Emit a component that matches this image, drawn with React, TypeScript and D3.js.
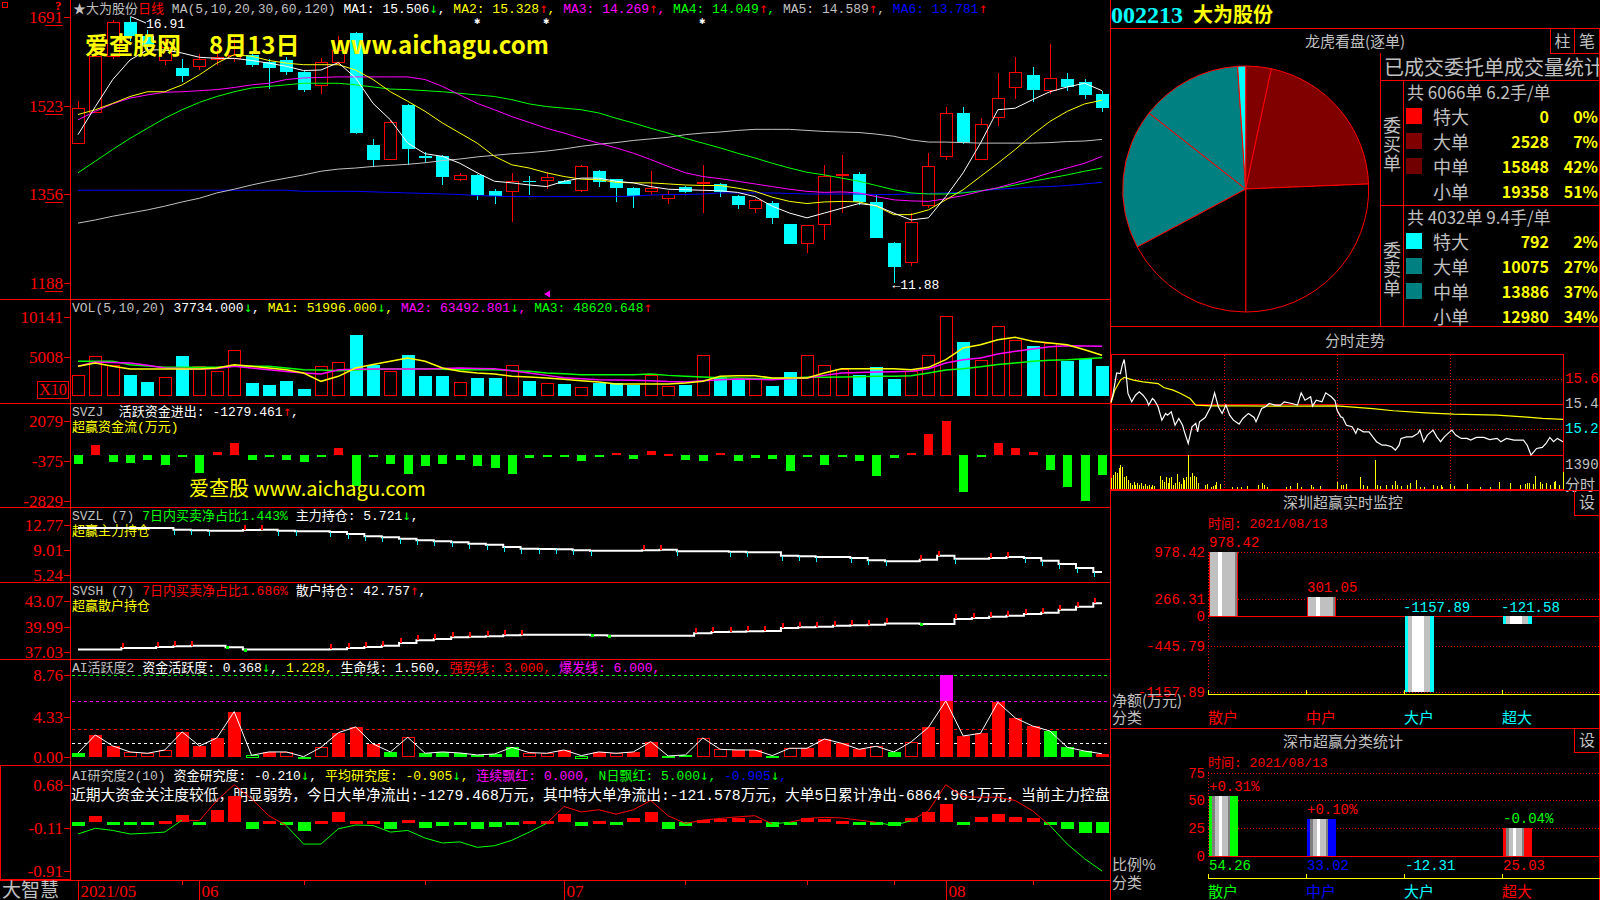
import React from 'react';
import * as d3 from 'd3';

// ---------------- DATA ----------------
const monthLabels = ['2021/05', '06', '07', '08'];
const monthStartIdx = [0, 7, 28, 50];

const openP = [14.53,15.11,16.17,16.80,16.55,16.09,15.94,15.97,16.10,16.12,16.19,16.06,16.09,15.87,15.62,16.06,16.60,14.49,14.22,15.24,14.28,14.28,13.84,13.92,13.62,13.61,13.80,13.82,13.80,13.63,14.00,13.84,13.68,13.61,13.48,13.69,13.76,13.75,13.53,13.29,13.39,12.99,12.63,13.00,13.92,13.94,13.41,12.63,12.28,13.35,14.27,15.09,14.22,15.02,15.58,15.81,15.53,15.73,15.67,15.44];
const highP = [15.31,16.41,16.85,16.91,16.65,16.50,16.10,16.20,16.30,16.50,16.25,16.10,16.15,15.90,16.12,16.55,16.62,14.60,14.96,15.25,14.35,14.30,13.95,13.93,13.65,13.95,13.90,13.98,13.82,14.10,14.01,13.85,13.70,14.00,13.62,13.72,14.10,13.77,13.55,13.47,13.42,13.00,12.98,14.10,14.30,13.97,13.55,12.65,13.20,14.34,15.20,15.20,15.00,15.85,16.15,15.95,16.40,15.85,15.73,15.50];
const lowP = [14.50,15.09,16.10,16.45,16.25,16.00,15.68,15.90,16.00,16.05,15.95,15.55,15.80,15.48,15.45,16.00,14.70,14.06,14.20,14.10,14.15,13.73,13.80,13.45,13.38,13.04,13.55,13.65,13.74,13.60,13.70,13.40,13.30,13.55,13.38,13.57,13.20,13.50,13.27,13.20,13.00,12.62,12.45,12.70,13.20,13.35,12.72,11.88,12.20,13.30,14.20,14.50,14.20,14.85,15.35,15.30,15.45,15.50,15.35,15.10];
const closeP = [15.18,16.17,16.80,16.55,16.35,16.34,15.78,16.11,16.14,16.19,16.00,15.94,15.87,15.53,16.06,16.28,14.72,14.21,14.91,14.41,14.23,13.88,13.92,13.55,13.53,13.80,13.78,13.88,13.75,14.09,13.79,13.67,13.53,13.67,13.56,13.59,13.78,13.59,13.36,13.45,13.10,12.62,12.97,13.90,13.94,13.40,12.72,12.18,13.04,14.09,15.09,14.52,14.88,15.37,15.86,15.53,15.75,15.58,15.42,15.19];

const ma5 = [14.68,15.21,15.72,16.09,16.28,16.28,16.22,16.14,16.12,16.12,16.08,16.03,15.97,15.89,15.90,16.04,15.75,15.27,14.96,14.52,14.32,14.27,14.14,13.96,13.80,13.77,13.73,13.70,13.80,13.86,13.86,13.80,13.77,13.70,13.65,13.64,13.63,13.62,13.59,13.51,13.33,13.20,13.11,13.20,13.29,13.38,13.34,13.20,13.07,13.11,13.51,13.96,14.52,15.15,15.18,15.34,15.49,15.58,15.65,15.51];
const ma10 = [15.06,15.15,15.27,15.40,15.49,15.49,15.62,15.81,16.03,16.19,16.16,16.08,16.03,16.00,16.00,16.00,15.90,15.72,15.49,15.31,15.12,14.90,14.71,14.52,14.27,14.11,14.05,13.96,13.89,13.84,13.83,13.78,13.77,13.77,13.75,13.73,13.72,13.72,13.67,13.61,13.50,13.42,13.38,13.41,13.42,13.41,13.33,13.17,13.17,13.26,13.45,13.64,13.89,14.14,14.40,14.68,14.93,15.12,15.26,15.33];
const ma20 = [14.96,15.12,15.26,15.37,15.43,15.48,15.49,15.51,15.53,15.57,15.62,15.65,15.72,15.75,15.76,15.77,15.77,15.77,15.77,15.77,15.72,15.59,15.43,15.27,15.15,15.02,14.91,14.80,14.71,14.61,14.52,14.43,14.33,14.21,14.08,13.96,13.89,13.85,13.80,13.75,13.70,13.65,13.61,13.59,13.60,13.58,13.51,13.45,13.43,13.42,13.47,13.53,13.61,13.68,13.77,13.86,13.96,14.05,14.14,14.27];
const ma30 = [13.96,14.18,14.40,14.61,14.80,14.99,15.15,15.29,15.40,15.49,15.56,15.59,15.62,15.65,15.65,15.65,15.62,15.58,15.54,15.53,15.51,15.49,15.46,15.43,15.40,15.34,15.26,15.21,15.18,15.15,15.09,14.99,14.90,14.80,14.71,14.61,14.52,14.43,14.33,14.24,14.14,14.05,13.97,13.92,13.86,13.80,13.72,13.64,13.58,13.56,13.56,13.58,13.62,13.67,13.73,13.80,13.86,13.92,13.99,14.05];
const ma60 = [13.01,13.07,13.14,13.20,13.26,13.33,13.41,13.48,13.58,13.65,13.73,13.80,13.86,13.92,13.99,14.03,14.05,14.08,14.10,14.12,14.15,14.19,14.22,14.26,14.29,14.32,14.34,14.37,14.41,14.46,14.50,14.53,14.57,14.60,14.63,14.68,14.71,14.73,14.76,14.78,14.78,14.78,14.76,14.74,14.73,14.72,14.69,14.65,14.58,14.54,14.54,14.53,14.52,14.52,14.52,14.52,14.53,14.55,14.56,14.59];
const ma120 = [13.63,13.63,13.63,13.63,13.63,13.63,13.63,13.63,13.63,13.63,13.63,13.63,13.63,13.61,13.61,13.61,13.61,13.60,13.59,13.58,13.57,13.56,13.55,13.53,13.52,13.51,13.51,13.51,13.51,13.51,13.51,13.51,13.52,13.54,13.55,13.55,13.56,13.58,13.58,13.58,13.58,13.57,13.56,13.56,13.56,13.56,13.55,13.55,13.56,13.57,13.58,13.59,13.62,13.65,13.67,13.69,13.70,13.72,13.75,13.78];

const volume = [2609,5060,3980,2609,1744,2350,5060,3767,3208,5920,1615,1314,1830,880,3767,4290,7775,3980,3208,5190,2520,2520,1744,2260,2260,3980,1830,1572,1486,1055,1615,1615,1400,2690,1228,1400,5190,2350,2090,2090,1228,3036,5275,3900,3466,2690,3640,2175,3208,5190,10300,6910,4625,8940,7170,6395,6745,4500,4755,3773];
const volMA5 = [3768,4198,3768,3423,3423,3423,3423,3423,3552,3983,3768,3552,3337,2907,1830,2476,3552,4000,4414,4844,4414,3552,3122,2907,2777,2476,2400,2261,2100,1900,1744,1486,1486,1486,1486,1600,1830,2476,2562,2562,2261,2261,2261,2907,3466,3466,3466,3466,3337,3638,4629,6136,6566,7212,7514,6997,6782,6566,5921,5200];
const volMA10 = [3768,4327,4250,4198,3900,3552,3480,3423,3500,3768,3550,3337,3100,2907,2777,3337,3380,3423,3423,3423,3423,3500,3552,3500,3466,3200,2907,2600,2300,2150,2045,2000,1960,1916,1800,1744,1916,2050,2131,2100,2045,2150,2261,2600,2907,2970,3036,3080,3122,3466,4198,4629,4844,5361,5705,6000,6300,6437,6400,6349];
const volMA20 = [4414,4414,4414,3983,3800,3638,3638,3638,3638,3768,3768,3768,3552,3337,3300,3208,3300,3400,3423,3466,3466,3400,3337,3337,3337,3200,3122,2900,2800,2691,2691,2691,2691,2777,2600,2476,2400,2300,2261,2200,2175,2250,2347,2370,2390,2430,2476,2500,2562,2907,3300,3466,3700,4000,4198,4414,4550,4629,4758,4862];

const svzj = [-579,587,-436,-497,-313,-640,-67,-1110,157,710,-313,-67,-313,-436,-67,403,-1908,-67,-579,-1172,-701,-579,-313,-701,-824,-1172,-190,-108,-170,-374,-67,76,-251,198,35,-313,-374,96,-374,-190,-251,-988,-67,-640,-129,-374,-1295,-190,96,1262,2079,-2277,-129,710,403,157,-926,-2011,-2829,-1279];

const svzl = [12.27,12.27,12.27,12.27,12.27,12.27,12.03,11.93,11.88,11.88,11.98,12.03,11.88,11.78,11.78,11.68,11.38,11.04,10.89,10.69,10.44,10.29,10.14,9.95,9.80,9.45,9.20,9.15,9.10,8.96,8.91,8.91,8.91,8.96,9.05,8.81,8.81,8.81,8.76,8.66,8.66,8.16,8.06,7.96,7.96,7.82,7.47,7.32,7.32,7.57,8.16,7.72,7.72,7.82,7.96,7.82,7.42,6.93,6.33,5.72];
const svsh = [37.31,37.31,37.31,37.50,37.50,37.62,37.70,37.78,37.78,37.58,37.31,37.31,37.31,37.31,37.31,37.34,37.50,37.62,37.78,38.09,38.40,38.56,38.76,38.83,38.87,38.99,39.07,39.07,39.07,39.07,38.99,38.95,38.95,38.95,38.95,38.95,39.23,39.38,39.42,39.46,39.50,39.85,39.93,40.01,40.13,40.17,40.25,40.40,40.40,40.33,40.33,40.91,41.03,41.19,41.31,41.50,41.66,42.01,42.36,42.76];

const aiAct = [0.46,2.38,1.21,0.57,0.43,0.78,2.70,1.21,2.06,4.86,0.21,0.57,0.57,0.07,1.06,2.62,3.23,1.42,0.57,2.13,0.43,0.57,0.46,0.25,0.35,1.06,0.50,0.43,0.78,0.18,0.57,0.43,0.57,1.67,0.14,0.25,2.06,0.85,0.78,0.78,0.18,0.96,0.96,1.95,1.49,0.85,1.17,0.57,1.63,3.19,8.76,2.27,2.55,5.85,4.19,3.33,2.80,1.06,0.67,0.37];
const aiActType = 'GRRrrrRRRRgRrGrRRRGrGGGGGGrrRgRrRRGGrrRRGrRRRRrGrRRRRRRRGGG';
const aiLevels = [8.76, 6.0, 3.0, 1.56];

const aiRes = [-0.08,0.10,-0.02,-0.06,-0.02,0.02,0.13,-0.03,0.21,0.47,-0.14,0.02,-0.05,-0.17,0.01,0.17,0.02,0.02,-0.14,0.04,-0.11,-0.08,-0.06,-0.13,-0.10,-0.04,0.02,0.02,0.15,-0.08,0.02,-0.02,0.06,0.18,-0.14,-0.08,0.04,0.05,0.06,0.04,-0.10,-0.02,0.07,0.05,0.02,-0.02,-0.02,-0.08,0.06,0.18,0.32,-0.06,0.09,0.15,0.09,0.06,-0.04,-0.14,-0.20,-0.21];
const aiResLine = [-0.225,-0.12,-0.16,-0.225,-0.21,-0.19,0.03,0.02,0.39,0.68,0.42,0.11,-0.07,-0.41,-0.41,-0.13,-0.06,-0.07,-0.19,-0.16,-0.30,-0.39,-0.37,-0.47,-0.44,-0.34,-0.19,-0.03,0.28,0.18,0.22,0.14,0.22,0.39,0.11,-0.03,0.03,0.06,0.09,0.11,-0.04,-0.01,0.06,0.08,0.07,0.03,-0.01,-0.07,0.02,0.20,0.68,0.46,0.45,0.45,0.39,0.20,-0.07,-0.41,-0.68,-0.905];

// axis tick labels
const priceTicks = [16.91, 15.23, 13.56, 11.88];
const priceTickLabels = ['1691', '1523', '1356', '1188'];
const volTicks = [10141, 5008];
const svzjTicks = [2079, -375, -2829];
const svzlTicks = [12.77, 9.01, 5.24];
const svshTicks = [43.07, 39.99, 37.03];
const aiTicks = [8.76, 4.33, 0];
const resTicks = [0.68, -0.11, -0.91];

// right panel
const pieValues = [0, 2528, 15848, 19358, 12980, 13886, 10075, 792];
const pieColors = ['#ff0000', '#800000', '#800000', '#000000', '#000000', '#008080', '#008080', '#00ffff'];
const orderLabels = ['特大', '大单', '中单', '小单'];
const buyVals = [0, 2528, 15848, 19358];
const buyPct = ['0%', '7%', '42%', '51%'];
const buyColors = ['#ff0000', '#800000', '#700000', ''];
const sellVals = [792, 10075, 13886, 12980];
const sellPct = ['2%', '27%', '37%', '34%'];
const sellColors = ['#00ffff', '#008080', '#008080', ''];

const fsPrice: [number, number][] = [[0,15.455],[1,15.497],[3,15.639],[5,15.635],[6,15.688],[7,15.724],[8,15.635],[9,15.508],[11,15.455],[13,15.497],[15,15.518],[17,15.497],[19,15.465],[20,15.434],[22,15.476],[23,15.465],[25,15.423],[27,15.338],[29,15.381],[30,15.370],[32,15.391],[34,15.306],[36,15.349],[38,15.306],[39,15.264],[41,15.190],[43,15.296],[45,15.317],[46,15.264],[47,15.328],[50,15.355],[53,15.423],[55,15.512],[57,15.423],[59,15.381],[61,15.434],[63,15.370],[65,15.338],[68,15.313],[70,15.349],[73,15.381],[76,15.355],[77,15.328],[80,15.412],[82,15.423],[84,15.444],[87,15.434],[90,15.434],[92,15.455],[96,15.444],[99,15.434],[101,15.512],[103,15.465],[106,15.487],[107,15.427],[109,15.465],[112,15.455],[114,15.512],[117,15.487],[119,15.461],[120,15.402],[122,15.359],[123,15.355],[125,15.306],[128,15.296],[130,15.254],[131,15.285],[134,15.264],[137,15.264],[139,15.232],[141,15.201],[144,15.179],[146,15.179],[149,15.169],[151,15.148],[153,15.179],[154,15.222],[157,15.232],[160,15.232],[163,15.254],[164,15.275],[166,15.201],[168,15.243],[171,15.275],[173,15.232],[175,15.201],[177,15.232],[179,15.254],[181,15.275],[183,15.243],[186,15.222],[189,15.222],[191,15.211],[194,15.228],[198,15.228],[201,15.215],[205,15.222],[207,15.201],[210,15.222],[214,15.211],[219,15.211],[221,15.179],[223,15.116],[226,15.158],[229,15.165],[231,15.190],[233,15.228],[235,15.201],[237,15.222],[240,15.201]];
const fsAvg: [number, number][] = [[0,15.448],[2,15.529],[5,15.593],[7,15.610],[12,15.593],[17,15.582],[25,15.571],[28,15.546],[33,15.529],[37,15.508],[42,15.476],[45,15.434],[53,15.429],[70,15.429],[88,15.427],[99,15.427],[120,15.429],[139,15.412],[150,15.398],[167,15.385],[182,15.376],[205,15.370],[219,15.359],[229,15.349],[240,15.343]];
const fsVol: [number, number][] = [[0,436],[1,572],[2,709],[3,641],[4,845],[5,981],[6,913],[7,504],[8,532],[9,368],[10,232],[11,164],[12,300],[13,164],[14,232],[15,164],[16,259],[17,123],[18,204],[19,123],[20,164],[21,95],[22,164],[23,123],[26,532],[27,368],[28,300],[29,504],[30,232],[31,436],[32,504],[33,164],[34,232],[35,613],[36,300],[37,204],[38,436],[39,368],[40,504],[41,1390],[42,504],[43,641],[44,532],[45,504],[46,232],[50,164],[51,204],[53,95],[54,123],[55,164],[56,300],[58,204],[64,95],[67,95],[69,95],[72,123],[78,164],[80,232],[81,164],[83,95],[93,95],[95,123],[99,232],[101,95],[106,164],[107,95],[111,123],[120,300],[122,164],[123,164],[125,204],[132,504],[134,164],[136,123],[140,1186],[141,164],[143,123],[146,164],[149,164],[151,341],[152,164],[154,123],[157,164],[159,232],[162,368],[164,95],[166,95],[171,164],[173,123],[175,164],[176,95],[180,204],[182,123],[189,204],[196,95],[201,95],[206,300],[212,259],[217,164],[220,204],[221,232],[222,259],[224,204],[225,532],[228,300],[229,204],[231,259],[233,164],[235,300],[236,341],[238,164],[240,709]];
const fsPriceTicks = [15.60, 15.44, 15.28];

const szCats = ['散户', '中户', '大户', '超大'];
const szNet = [978.42, 301.05, -1157.89, -121.58];
const szNetTicks = [978.42, 266.31, 0, -445.79, -1157.89];
const szRatio = [54.26, 33.02, -12.31, 25.03];
const szRatioChange = ['+0.31%', '+0.10%', '', '-0.04%'];
const szRatioTicks = [75, 50, 25, 0];

// ---------------- STYLE ----------------
const RED = '#ff0000', CYAN = '#00ffff', GREEN = '#00ff00', YELLOW = '#ffff00';
const MAGENTA = '#ff00ff', BLUE = '#0000ff', WHITE = '#ffffff', GRAY = '#c0c0c0';
const MONO = "'Liberation Mono','Noto Sans CJK SC',monospace";
const ARROWF = "'DejaVu Sans Mono','DejaVu Sans',monospace";
const CJK = "'Noto Sans CJK SC','Noto Sans',sans-serif";
const NUMF = "'Liberation Serif','DejaVu Serif',serif";

type Seg = [string, string];
function Rich({ x, y, segs, size = 13, family = MONO }: { x: number; y: number; segs: Seg[]; size?: number; family?: string }) {
  return (
    <text x={x} y={y} fontSize={size} fontFamily={family} style={{ whiteSpace: 'pre' }}>
      {segs.map(([t, c], i) => (
        t === '↑' || t === '↓'
          ? <tspan key={i} fill={c} fontFamily={ARROWF} fontSize={size + 1}>{t}</tspan>
          : <tspan key={i} fill={c}>{t}</tspan>
      ))}
    </text>
  );
}

function AxisLabels({ ticks, scale, labels, underline = false }: { ticks: number[]; scale: (v: number) => number; labels: string[]; underline?: boolean }) {
  return (
    <g>
      {ticks.map((t, i) => {
        const y = Math.round(scale(t)) + 0.5;
        return (
          <g key={i}>
            <text x={63} y={y} fill={RED} fontSize={17} fontFamily={NUMF} textAnchor="end" dominantBaseline="central">{labels[i]}</text>
            <line x1={64} x2={70} y1={y} y2={y} stroke={RED} />
            {underline && <line x1={45} x2={63} y1={y + 8} y2={y + 8} stroke={RED} />}
          </g>
        );
      })}
    </g>
  );
}

export default function App() {
  const N = closeP.length;
  const x = d3.scaleLinear().domain([0, N - 1]).range([78, 1102]);
  const cxOf = (i: number) => Math.round(x(i)) + 0.5;

  const yP = d3.scaleLinear().domain([11.88, 16.91]).range([283, 16.5]);
  const yV = d3.scaleLinear().domain([0, 10141]).range([395.5, 317]);
  const yZJ = d3.scaleLinear().domain([-2829, 2079]).range([500.7, 420.7]);
  const yZL = d3.scaleLinear().domain([5.24, 12.77]).range([575.3, 524.7]);
  const ySH = d3.scaleLinear().domain([37.03, 43.07]).range([652, 600.7]);
  const yAI = d3.scaleLinear().domain([0, 8.76]).range([757.3, 675]);
  const yRS = d3.scaleLinear().domain([-0.91, 0.68]).range([871.3, 784.7]);

  const lineOf = (ys: (v: number) => number, curve: d3.CurveFactory = d3.curveLinear) =>
    d3.line<number>().x((_, i) => x(i)).y(d => ys(d)).curve(curve);

  const maLines: [number[], string][] = [
    [ma120, BLUE], [ma60, GRAY], [ma30, GREEN], [ma20, MAGENTA], [ma10, YELLOW], [ma5, WHITE],
  ];

  const pieGen = d3.pie<number>().sort(null).startAngle(0).endAngle(Math.PI * 2);
  const arcs = pieGen(pieValues);
  const arcGen = d3.arc<d3.PieArcDatum<number>>().innerRadius(0).outerRadius(123);

  const fx = d3.scaleLinear().domain([0, 240]).range([1111, 1563]);
  const fy = d3.scaleLinear().domain([15.28, 15.60]).range([429.3, 379]);
  const fv = d3.scaleLinear().domain([0, 1390]).range([489, 455]);
  const fsLine = d3.line<[number, number]>().x(d => fx(d[0])).y(d => fy(d[1]));

  const cx4 = d3.scaleLinear().domain([0, 3]).range([1208, 1502]);
  const yNet = d3.scaleLinear().domain([-1157.89, 978.42]).range([692.3, 552.3]);
  const yRat = d3.scaleLinear().domain([0, 75]).range([855.7, 772.7]);
  const ratEdge = [GREEN, BLUE, CYAN, RED];
  const netColor = (v: number) => (v >= 0 ? RED : CYAN);

  const resSegs = aiResLine.slice(1).map((v, k) => ({ i: k, c: (v + aiResLine[k]) / 2 >= 0 ? RED : GREEN }));

  const stops = (arr: [number, string][]) => arr.map(([o, c], k) => <stop key={k} offset={o} stopColor={c} />);

  return (
    <div style={{ position: 'absolute', left: 0, top: 0, width: 1600, height: 900, background: '#000' }}>
      <svg width={1600} height={900} style={{ display: 'block', background: '#000' }}>
        <defs>
          <clipPath id="leftClip"><rect x={71} y={0} width={1039} height={900} /></clipPath>
          <clipPath id="mainClip"><rect x={71} y={0} width={1039} height={298} /></clipPath>
          <clipPath id="rightClip"><rect x={1111} y={0} width={488} height={900} /></clipPath>
          <linearGradient id="gPos" x1="0" x2="1" y1="0" y2="0">
            {stops([[0, RED], [0.04, RED], [0.04, GRAY], [0.3, GRAY], [0.3, WHITE], [0.45, WHITE], [0.45, GRAY], [0.88, GRAY], [0.88, '#808080'], [0.95, '#808080'], [0.95, RED], [1, RED]])}
          </linearGradient>
          <linearGradient id="gNeg" x1="0" x2="1" y1="0" y2="0">
            {stops([[0, CYAN], [0.09, CYAN], [0.09, GRAY], [0.25, GRAY], [0.25, WHITE], [0.65, WHITE], [0.65, GRAY], [0.85, GRAY], [0.85, CYAN], [1, CYAN]])}
          </linearGradient>
          {ratEdge.map((e, j) => (
            <linearGradient key={j} id={`gR${j}`} x1="0" x2="1" y1="0" y2="0">
              {stops([[0, e], [0.12, e], [0.12, '#808080'], [0.2, '#808080'], [0.2, GRAY], [0.34, GRAY], [0.34, WHITE], [0.44, WHITE], [0.44, GRAY], [0.66, GRAY], [0.66, '#808080'], [0.74, '#808080'], [0.74, e], [1, e]])}
            </linearGradient>
          ))}
        </defs>
        <rect x={0} y={0} width={1600} height={900} fill="#000" />

        {/* ---------- frame lines left ---------- */}
        <g shapeRendering="crispEdges">
          {[299, 403, 507, 582, 659, 765, 880].map(y => <line key={y} x1={0} x2={1110} y1={y + 0.5} y2={y + 0.5} stroke={RED} />)}
          <line x1={70.5} x2={70.5} y1={0} y2={880} stroke={RED} />
          <line x1={1110.5} x2={1110.5} y1={0} y2={900} stroke={RED} />
          <rect x={0.5} y={765.5} width={70} height={114} fill="none" stroke={RED} />
          <rect x={2.5} y={2.5} width={5} height={5} fill="none" stroke={RED} />
        </g>
        <text x={55} y={10} fill={RED} fontSize={13} fontWeight="bold" fontFamily={NUMF}>?</text>

        {/* ---------- axis labels ---------- */}
        <AxisLabels ticks={priceTicks} scale={yP} labels={priceTickLabels} underline />
        <AxisLabels ticks={volTicks} scale={yV} labels={volTicks.map(String)} />
        <g shapeRendering="crispEdges">
          <rect x={37.5} y={381.5} width={31} height={17} fill="none" stroke={RED} />
        </g>
        <text x={53} y={395} fill={RED} fontSize={16} fontFamily={NUMF} textAnchor="middle">X10</text>
        <AxisLabels ticks={svzjTicks} scale={yZJ} labels={svzjTicks.map(String)} />
        <AxisLabels ticks={svzlTicks} scale={yZL} labels={svzlTicks.map(v => v.toFixed(2))} />
        <AxisLabels ticks={svshTicks} scale={ySH} labels={svshTicks.map(v => v.toFixed(2))} />
        <AxisLabels ticks={aiTicks} scale={yAI} labels={aiTicks.map(v => v.toFixed(2))} />
        <AxisLabels ticks={resTicks} scale={yRS} labels={resTicks.map(v => v.toFixed(2))} />

        {/* ---------- main price panel ---------- */}
        <g clipPath="url(#mainClip)">
          <g shapeRendering="crispEdges">
            {closeP.map((c, i) => {
              const o = openP[i], h = highP[i], l = lowP[i];
              const up = c >= o;
              const cx = cxOf(i);
              const top = Math.round(yP(Math.max(o, c)));
              const bot = Math.round(yP(Math.min(o, c)));
              if (up) {
                return (
                  <g key={i}>
                    <line x1={cx} x2={cx} y1={yP(h)} y2={top} stroke={RED} />
                    <line x1={cx} x2={cx} y1={bot} y2={yP(l)} stroke={RED} />
                    <rect x={cx - 6} y={top + 0.5} width={12} height={Math.max(1, bot - top)} fill="#000" stroke={RED} />
                  </g>
                );
              }
              return (
                <g key={i}>
                  <line x1={cx} x2={cx} y1={yP(h)} y2={yP(l)} stroke={CYAN} />
                  <rect x={cx - 6.5} y={top} width={13} height={Math.max(1, bot - top)} fill={CYAN} />
                </g>
              );
            })}
          </g>
          {maLines.map(([d, c], k) => <path key={k} d={lineOf(yP)(d) || ''} fill="none" stroke={c} strokeWidth={1} />)}
          <line x1={cxOf(3)} y1={yP(16.91)} x2={146} y2={23} stroke={WHITE} />
          <text x={146} y={28} fill={WHITE} fontSize={13} fontFamily={MONO}>16.91</text>
          <text x={cxOf(47) - 2} y={289} fill={WHITE} fontSize={13} fontFamily={MONO}>←11.88</text>
          <path d="M544,294 l6,-3.5 v7 z" fill={MAGENTA} />
          <g fill={YELLOW} fontFamily={CJK} fontWeight="bold" fontSize={24}>
            <text x={85} y={54}>爱查股网</text>
            <text x={209} y={54}>8月13日</text>
            <text x={330} y={54}>www.aichagu.com</text>
          </g>
          {[477, 546, 702].map(sx => <text key={sx} x={sx} y={24} fill={WHITE} fontSize={10} textAnchor="middle" fontFamily={MONO}>✱</text>)}
        </g>

        {/* ---------- headers ---------- */}
        <g clipPath="url(#leftClip)">
          <Rich x={73} y={13} segs={[['★大为股份', GRAY], ['日线', RED], [' MA(5,10,20,30,60,120) ', GRAY], ['MA1: 15.506', WHITE], ['↓', GREEN], [', ', WHITE], ['MA2: 15.328', YELLOW], ['↑', RED], [', ', YELLOW], ['MA3: 14.269', MAGENTA], ['↑', RED], [', ', MAGENTA], ['MA4: 14.049', GREEN], ['↑', RED], [', ', GREEN], ['MA5: 14.589', GRAY], ['↑', RED], [', ', GRAY], ['MA6: 13.781', BLUE], ['↑', RED]]} />
          <Rich x={72} y={312} segs={[['VOL(5,10,20) ', GRAY], ['37734.000', WHITE], ['↓', GREEN], [', ', WHITE], ['MA1: 51996.000', YELLOW], ['↓', GREEN], [', ', YELLOW], ['MA2: 63492.801', MAGENTA], ['↓', GREEN], [', ', MAGENTA], ['MA3: 48620.648', GREEN], ['↑', RED]]} />
          <Rich x={72} y={416} segs={[['SVZJ  ', GRAY], ['活跃资金进出: -1279.461', WHITE], ['↑', RED], [',', WHITE]]} />
          <Rich x={72} y={431} segs={[['超赢资金流(万元)', YELLOW]]} />
          <Rich x={72} y={520} segs={[['SVZL (7) ', GRAY], ['7日内买卖净占比1.443%', GREEN], [' 主力持仓: 5.721', WHITE], ['↓', GREEN], [',', WHITE]]} />
          <Rich x={72} y={535} segs={[['超赢主力持仓', YELLOW]]} />
          <Rich x={72} y={595} segs={[['SVSH (7) ', GRAY], ['7日内买卖净占比1.686%', RED], [' 散户持仓: 42.757', WHITE], ['↑', RED], [',', WHITE]]} />
          <Rich x={72} y={610} segs={[['超赢散户持仓', YELLOW]]} />
          <Rich x={72} y={672} segs={[['AI活跃度2 ', GRAY], ['资金活跃度: 0.368', WHITE], ['↓', GREEN], [', ', WHITE], ['1.228, ', YELLOW], ['生命线: 1.560, ', WHITE], ['强势线: 3.000, ', RED], ['爆发线: 6.000,', MAGENTA]]} />
          <Rich x={72} y={780} segs={[['AI研究度2(10) ', GRAY], ['资金研究度: -0.210', WHITE], ['↓', GREEN], [', ', WHITE], ['平均研究度: -0.905', YELLOW], ['↓', GREEN], [', ', YELLOW], ['连续飘红: 0.000, ', MAGENTA], ['N日飘红: 5.000', GREEN], ['↓', GREEN], [', ', GREEN], ['-0.905', BLUE], ['↓', GREEN], [',', BLUE]]} />
        </g>
        <svg x={0} y={0} width={1110} height={900} overflow="hidden">
          <Rich x={71} y={800} size={14.75} segs={[['近期大资金关注度较低，明显弱势，今日大单净流出:-1279.468万元，其中特大单净流出:-121.578万元，大单5日累计净出-6864.961万元，当前主力控盘', WHITE]]} />
        </svg>

        {/* ---------- volume panel ---------- */}
        <g shapeRendering="crispEdges">
          {volume.map((v, i) => {
            const up = closeP[i] >= openP[i];
            const cx = cxOf(i);
            const top = Math.round(yV(v));
            const base = Math.round(yV(0));
            return up
              ? <rect key={i} x={cx - 6} y={top + 0.5} width={12} height={base - top - 1} fill="#000" stroke={RED} />
              : <rect key={i} x={cx - 6.5} y={top} width={13} height={base - top} fill={CYAN} />;
          })}
        </g>
        <path d={lineOf(yV)(volMA20) || ''} fill="none" stroke={GREEN} strokeWidth={1.5} />
        <path d={lineOf(yV)(volMA10) || ''} fill="none" stroke={MAGENTA} strokeWidth={1.5} />
        <path d={lineOf(yV)(volMA5) || ''} fill="none" stroke={YELLOW} strokeWidth={1.5} />

        {/* ---------- SVZJ ---------- */}
        <g shapeRendering="crispEdges">
          {svzj.map((v, i) => {
            const y0 = yZJ(0), y1 = yZJ(v);
            return <rect key={i} x={Math.round(x(i)) - 4} y={Math.min(y0, y1)} width={9} height={Math.max(2, Math.abs(y1 - y0))} fill={v >= 0 ? RED : GREEN} />;
          })}
        </g>
        <text x={189} y={496} fill={YELLOW} fontFamily={CJK} fontSize={20}>爱查股 www.aichagu.com</text>

        {/* ---------- SVZL ---------- */}
        <path d={lineOf(yZL, d3.curveStep)(svzl) || ''} fill="none" stroke={WHITE} strokeWidth={2} />
        <g shapeRendering="crispEdges">
          {svzl.map((v, i) => {
            if (i === 0 || v === svzl[i - 1]) return null;
            const cx = cxOf(i) - 8;
            const y = yZL(v);
            return v < svzl[i - 1]
              ? <line key={i} x1={cx} x2={cx} y1={y} y2={y + 5} stroke={CYAN} />
              : <line key={i} x1={cx} x2={cx} y1={y - 5} y2={y} stroke={RED} strokeWidth={2} />;
          })}
        </g>

        {/* ---------- SVSH ---------- */}
        <path d={lineOf(ySH, d3.curveStep)(svsh) || ''} fill="none" stroke={WHITE} strokeWidth={2} />
        <g shapeRendering="crispEdges">
          {svsh.map((v, i) => {
            if (i === 0 || v === svsh[i - 1]) return null;
            const cx = cxOf(i) - 8;
            const y = ySH(v);
            return v > svsh[i - 1]
              ? <line key={i} x1={cx} x2={cx} y1={y - 5} y2={y} stroke={RED} strokeWidth={2} />
              : <rect key={i} x={cx - 1} y={y - 1} width={3} height={3} fill={GREEN} />;
          })}
        </g>

        {/* ---------- AI activity ---------- */}
        <g shapeRendering="crispEdges">
          {aiLevels.map((lv, k) => (
            <line key={k} x1={72} x2={1110} y1={Math.round(yAI(lv)) + 0.5} y2={Math.round(yAI(lv)) + 0.5}
              stroke={[GREEN, MAGENTA, RED, WHITE][k]} strokeDasharray="3,3" strokeWidth={1.5} />
          ))}
          {aiAct.map((v, i) => {
            const t = aiActType[i];
            const cx = cxOf(i);
            const base = Math.round(yAI(0));
            const top = Math.round(yAI(Math.min(v, 6)));
            const col = t === 'G' || t === 'g' ? GREEN : RED;
            const hollow = t === 'g' || t === 'r';
            return (
              <g key={i}>
                {hollow
                  ? <rect x={cx - 6} y={top + 0.5} width={12} height={Math.max(2, base - top - 1)} fill="#000" stroke={col} />
                  : <rect x={cx - 6.5} y={top} width={13} height={Math.max(2, base - top)} fill={col} />}
                {v > 6 && <rect x={cx - 6.5} y={yAI(v)} width={13} height={yAI(6) - yAI(v)} fill={MAGENTA} />}
              </g>
            );
          })}
        </g>
        <path d={lineOf(yAI)(aiAct.map(v => Math.min(v, 6))) || ''} fill="none" stroke={WHITE} strokeWidth={1} />

        {/* ---------- AI research ---------- */}
        <g shapeRendering="crispEdges">
          {aiRes.map((v, i) => {
            const y0 = yRS(0), y1 = yRS(v);
            return <rect key={i} x={cxOf(i) - 6.5} y={Math.min(y0, y1)} width={13} height={Math.max(3, Math.abs(y1 - y0))} fill={v >= 0 ? RED : GREEN} />;
          })}
        </g>
        {resSegs.map(({ i, c }) => (
          <line key={i} x1={x(i)} y1={yRS(aiResLine[i])} x2={x(i + 1)} y2={yRS(aiResLine[i + 1])} stroke={c} strokeWidth={1} />
        ))}

        {/* ---------- date axis ---------- */}
        <text x={2} y={897} fill={GRAY} fontSize={19} fontFamily={CJK}>大智慧</text>
        <g shapeRendering="crispEdges">
          {monthStartIdx.map((idx, k) => (
            <g key={k}>
              <line x1={cxOf(idx)} x2={cxOf(idx)} y1={880} y2={900} stroke={RED} />
              <text x={cxOf(idx) + 2} y={897} fill={RED} fontSize={17} fontFamily={NUMF}>{monthLabels[k]}</text>
            </g>
          ))}
          {[6, 13, 20, 35, 42, 47, 55].map(idx => <line key={idx} x1={cxOf(idx)} x2={cxOf(idx)} y1={880} y2={885} stroke={RED} />)}
        </g>

        {/* ================= RIGHT PANEL ================= */}
        <text x={1111} y={23} fill={CYAN} fontSize={24} fontWeight="bold" fontFamily={NUMF}>002213</text>
        <text x={1193} y={22} fill={YELLOW} fontSize={20} fontWeight="bold" fontFamily={CJK}>大为股份</text>
        <g shapeRendering="crispEdges" stroke={RED} fill="none">
          <line x1={1110} x2={1600} y1={28.5} y2={28.5} />
          <line x1={1599.5} x2={1599.5} y1={28} y2={900} />
          <line x1={1110} x2={1600} y1={326.5} y2={326.5} />
          <rect x={1550.5} y={28.5} width={24} height={25} />
          <rect x={1574.5} y={28.5} width={25} height={25} />
          <line x1={1380.5} x2={1380.5} y1={53} y2={327} />
          <line x1={1380} x2={1600} y1={80.5} y2={80.5} />
          <line x1={1403.5} x2={1403.5} y1={80} y2={327} />
          <line x1={1380} x2={1600} y1={205.5} y2={205.5} />
        </g>
        <text x={1355} y={47} fill={GRAY} fontSize={15} fontFamily={CJK} textAnchor="middle">龙虎看盘(逐单)</text>
        <text x={1562.5} y={47} fill={GRAY} fontSize={16} fontFamily={CJK} textAnchor="middle">柱</text>
        <text x={1587} y={47} fill={GRAY} fontSize={16} fontFamily={CJK} textAnchor="middle">笔</text>

        <g transform="translate(1245.7,189)">
          {arcs.map((a, k) => <path key={k} d={arcGen(a) || ''} fill={pieColors[k]} stroke={RED} strokeWidth={1} />)}
        </g>

        <g clipPath="url(#rightClip)">
          <text x={1384} y={75} fill={GRAY} fontSize={20} fontFamily={CJK}>已成交委托单成交量统计</text>
          <text x={1407} y={99} fill={GRAY} fontSize={17} fontFamily={CJK}>共 6066单 6.2手/单</text>
          <text x={1407} y={224} fill={GRAY} fontSize={17} fontFamily={CJK}>共 4032单 9.4手/单</text>
          {['委', '买', '单'].map((c, k) => <text key={c + k} x={1392} y={124 + k * 19} fill={GRAY} fontSize={18} fontFamily={CJK} textAnchor="middle" dominantBaseline="central">{c}</text>)}
          {['委', '卖', '单'].map((c, k) => <text key={c + k} x={1392} y={249 + k * 19} fill={GRAY} fontSize={18} fontFamily={CJK} textAnchor="middle" dominantBaseline="central">{c}</text>)}
          {orderLabels.map((lab, k) => {
            const yb = 116 + k * 25, ys = 241 + k * 25;
            return (
              <g key={k}>
                {buyColors[k] && <rect x={1406} y={yb - 8} width={16} height={16} fill={buyColors[k]} />}
                <text x={1433} y={yb} fill={GRAY} fontSize={18} fontFamily={CJK} dominantBaseline="central">{lab}</text>
                <text x={1549} y={yb} fill={YELLOW} fontSize={16} fontWeight="bold" fontFamily={CJK} textAnchor="end" dominantBaseline="central">{buyVals[k]}</text>
                <text x={1598} y={yb} fill={YELLOW} fontSize={16} fontWeight="bold" fontFamily={CJK} textAnchor="end" dominantBaseline="central">{buyPct[k]}</text>
                {sellColors[k] && <rect x={1406} y={ys - 8} width={16} height={16} fill={sellColors[k]} />}
                <text x={1433} y={ys} fill={GRAY} fontSize={18} fontFamily={CJK} dominantBaseline="central">{lab}</text>
                <text x={1549} y={ys} fill={YELLOW} fontSize={16} fontWeight="bold" fontFamily={CJK} textAnchor="end" dominantBaseline="central">{sellVals[k]}</text>
                <text x={1598} y={ys} fill={YELLOW} fontSize={16} fontWeight="bold" fontFamily={CJK} textAnchor="end" dominantBaseline="central">{sellPct[k]}</text>
              </g>
            );
          })}
        </g>

        {/* ---------- fenshi ---------- */}
        <text x={1355} y={346} fill={GRAY} fontSize={15} fontFamily={CJK} textAnchor="middle">分时走势</text>
        <g shapeRendering="crispEdges">
          <rect x={1111.5} y={354.5} width={452} height={134.5} fill="none" stroke={RED} />
          <line x1={1111} x2={1563} y1={404.5} y2={404.5} stroke={RED} />
          <line x1={1111} x2={1563} y1={455.5} y2={455.5} stroke={RED} />
          {[15.60, 15.28].map(p => <line key={p} x1={1111} x2={1563} y1={Math.round(fy(p)) + 0.5} y2={Math.round(fy(p)) + 0.5} stroke={RED} strokeDasharray="1,2" />)}
          {[60, 120, 180].map(m => <line key={m} x1={Math.round(fx(m)) + 0.5} x2={Math.round(fx(m)) + 0.5} y1={355} y2={489} stroke={RED} strokeDasharray="1,2" />)}
          {fsVol.map(([m, v]) => <line key={m} x1={Math.round(fx(m)) + 0.5} x2={Math.round(fx(m)) + 0.5} y1={fv(0)} y2={fv(v)} stroke={YELLOW} />)}
        </g>
        <path d={fsLine(fsAvg) || ''} fill="none" stroke={YELLOW} strokeWidth={1.2} />
        <path d={fsLine(fsPrice) || ''} fill="none" stroke={WHITE} strokeWidth={1.2} />
        <g clipPath="url(#rightClip)" fontFamily={MONO} fontSize={14}>
          {fsPriceTicks.map((p, k) => <text key={p} x={1565} y={fy(p)} fill={[RED, GRAY, CYAN][k]} dominantBaseline="central">{p.toFixed(2)}</text>)}
          <text x={1565} y={465} fill={GRAY} dominantBaseline="central">1390</text>
          <text x={1565} y={483} fill={GRAY} fontFamily={CJK} fontSize={15} dominantBaseline="central">分时</text>
        </g>

        {/* ---------- shenzhen realtime ---------- */}
        <g shapeRendering="crispEdges" stroke={RED} fill="none">
          <line x1={1110} x2={1600} y1={490.5} y2={490.5} />
          <rect x={1574.5} y={490.5} width={25} height={24.5} />
          <line x1={1110} x2={1600} y1={728.5} y2={728.5} />
          <rect x={1574.5} y={728.5} width={25} height={24} />
        </g>
        <text x={1343} y={508} fill={GRAY} fontSize={15} fontFamily={CJK} textAnchor="middle">深圳超赢实时监控</text>
        <text x={1587} y={508} fill={GRAY} fontSize={16} fontFamily={CJK} textAnchor="middle">设</text>
        <Rich x={1208} y={528} size={13} segs={[['时间: 2021/08/13', RED]]} />
        <g shapeRendering="crispEdges">
          {szNetTicks.map(t => {
            const y = Math.round(yNet(t)) + 0.5;
            return (
              <g key={t}>
                <line x1={1208} x2={1600} y1={y} y2={y} stroke={RED} strokeDasharray={t === 0 ? undefined : '1,2'} />
                <text x={1205} y={y} fill={RED} fontSize={14} fontFamily={MONO} textAnchor="end" dominantBaseline="central">{t === 0 ? '0' : t.toFixed(2)}</text>
              </g>
            );
          })}
          <line x1={1208.5} x2={1208.5} y1={552} y2={694} stroke={RED} strokeDasharray="1,2" />
          {szNet.map((v, k) => {
            const y0 = yNet(0), y1 = yNet(v);
            return <rect key={k} x={cx4(k) + 1} y={Math.min(y0, y1)} width={29} height={Math.abs(y1 - y0)} fill={v >= 0 ? 'url(#gPos)' : 'url(#gNeg)'} />;
          })}
          <line x1={1208} x2={1600} y1={694.5} y2={694.5} stroke={YELLOW} />
          {szCats.map((_, k) => <line key={k} x1={cx4(k) + 0.5} x2={cx4(k) + 0.5} y1={690} y2={694} stroke={YELLOW} />)}
        </g>
        {szNet.map((v, k) => (
          <text key={k} x={cx4(k) + (v < 0 ? -1 : 1)} y={v >= 0 ? yNet(v) - 5 : yNet(0) - 4} fill={netColor(v)} fontSize={14} fontFamily={MONO}>{v.toFixed(2)}</text>
        ))}
        <text x={1112} y={706} fill={GRAY} fontSize={15} fontFamily={CJK}>净额(万元)</text>
        <text x={1112} y={723} fill={GRAY} fontSize={15} fontFamily={CJK}>分类</text>
        {szCats.map((c, k) => <text key={c} x={cx4(k)} y={723} fill={k < 2 ? RED : CYAN} fontSize={15} fontFamily={CJK}>{c}</text>)}

        {/* ---------- shenzhen category stats ---------- */}
        <text x={1343} y={747} fill={GRAY} fontSize={15} fontFamily={CJK} textAnchor="middle">深市超赢分类统计</text>
        <text x={1587} y={746} fill={GRAY} fontSize={16} fontFamily={CJK} textAnchor="middle">设</text>
        <Rich x={1208} y={767} size={13} segs={[['时间: 2021/08/13', RED]]} />
        <g shapeRendering="crispEdges">
          {szRatioTicks.map(t => {
            const y = Math.round(yRat(t)) + 0.5;
            return (
              <g key={t}>
                <line x1={1208} x2={1600} y1={y} y2={y} stroke={RED} strokeDasharray={t === 0 ? undefined : '1,2'} />
                <text x={1205} y={y} fill={RED} fontSize={14} fontFamily={MONO} textAnchor="end" dominantBaseline="central">{t}</text>
              </g>
            );
          })}
          <line x1={1208.5} x2={1208.5} y1={772} y2={856} stroke={RED} strokeDasharray="1,2" />
          {szRatio.map((v, k) => v > 0 ? <rect key={k} x={cx4(k) + 1} y={yRat(v)} width={29} height={yRat(0) - yRat(v)} fill={`url(#gR${k})`} /> : null)}
          <line x1={1208} x2={1600} y1={878.5} y2={878.5} stroke={YELLOW} />
          {szCats.map((_, k) => <line key={k} x1={cx4(k) + 0.5} x2={cx4(k) + 0.5} y1={874} y2={878} stroke={YELLOW} />)}
        </g>
        {szRatio.map((v, k) => szRatioChange[k] ? (
          <text key={k} x={cx4(k) + 1} y={yRat(v) - 5} fill={szRatioChange[k].startsWith('-') ? GREEN : RED} fontSize={14} fontFamily={MONO}>{szRatioChange[k]}</text>
        ) : null)}
        {szRatio.map((v, k) => <text key={k} x={cx4(k) + 1} y={870} fill={ratEdge[k]} fontSize={14} fontFamily={MONO}>{v.toFixed(2)}</text>)}
        <text x={1112} y={870} fill={GRAY} fontSize={15} fontFamily={CJK}>比例%</text>
        <text x={1112} y={888} fill={GRAY} fontSize={15} fontFamily={CJK}>分类</text>
        {szCats.map((c, k) => <text key={c} x={cx4(k)} y={897} fill={ratEdge[k]} fontSize={15} fontFamily={CJK}>{c}</text>)}
      </svg>
    </div>
  );
}
